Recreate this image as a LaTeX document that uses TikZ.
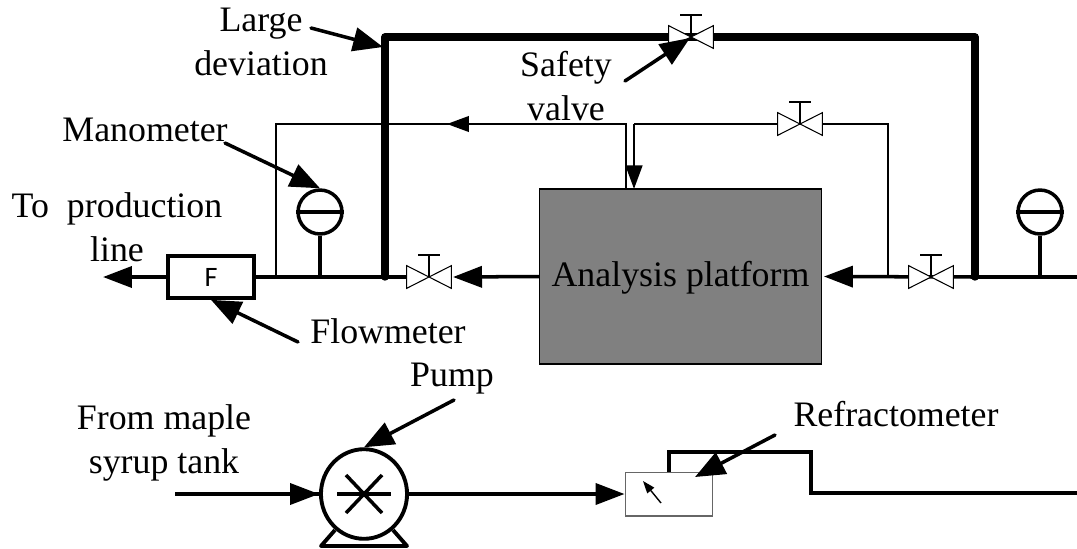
\documentclass[tikz,border=0pt]{standalone}
\usepackage{fontspec}
\setmainfont{Liberation Serif}
\newfontfamily\labelsans{Carlito}
\usetikzlibrary{positioning, arrows.meta, shapes.geometric}

\begin{document}
\begin{tikzpicture}[
      x=0.02cm, y=-0.02cm,
      lbl/.style={font=\fontsize{20.4}{25}\selectfont, inner sep=0pt, align=center},
      pipe/.style={line width=2pt},
      bigpipe/.style={line width=4.2pt, line join=round, line cap=round},
      thinpipe/.style={line width=0.8pt},
      arr/.style={pipe, -{Triangle[length=16.5pt, width=12pt]}},
      smallarr/.style={thinpipe, -{Triangle[length=12.5pt, width=9pt]}},
      leader/.style={line width=2pt, line cap=round, -{Triangle[length=17pt, width=13.5pt]}},
      valvebox/.style={minimum width=25pt, minimum height=12.5pt, inner sep=0pt},
      gauge/.style={circle, draw, line width=2pt, minimum size=25pt, inner sep=0pt},
    ]
    \useasboundingbox (0,0) rectangle (1077,548);

    % Main blocks
    \node[draw, fill=black!50, line width=0.9pt, minimum width=160.4pt, minimum height=99.5pt, inner sep=0pt] (AP) at (680.5,276.5) {};
    \node[lbl] (AL) at (680.5,278) {Analysis platform};
    \node[draw, line width=2pt, minimum width=49pt, minimum height=24pt, inner sep=0pt,
      font=\labelsans\fontsize{16}{18}\selectfont] (FM) at (211,277) {F};
    \node[draw=black!60, line width=0.6pt, minimum width=50pt, minimum height=25pt, inner sep=0pt] (RF) at (669,494) {};
    \node[ellipse, draw, line width=2.2pt, minimum width=49pt, minimum height=51pt, inner sep=0pt] (PU) at (364,494) {};

    % Junctions on the pipes
    \foreach \n/\x/\y in {JA/276/277, JB/320/277, JC/385/277, JD/888/277, JE/975/277, JF/1040/277,
        TA/385/37, TB/975/37, LA/276/124, LB/626/124, LC/626/189, RA/888/124, RB/634/124, RC/634/189,
        OE/1077/277, OL/103/277, IN/175/494, SA/669/452, SB/811/452, SC/811/493, SD/1077/493,
        TL/383/47, TS/690/38, TR/695/477} {
        \coordinate (\n) at (\x,\y);
      }

    % Pipes
    \draw[bigpipe] (JC) -- (TA) -- (TB) -- (JE);
    \draw[thinpipe] (JA) -- (LA) -- (LB) -- (LC);
    \draw[thinpipe] (JD) -- (RA) -- (RB);
    \draw[line width=1.5pt, -{Triangle[length=13.5pt, width=9.5pt]}] (RB) -- (RC);
    \draw[smallarr] (LB) -- (447,124);
    \draw[pipe] (FM.east) -- (JC) -- (410,277);
    \draw[arr] (FM.west) -- (OL);
    \draw[arr] (AP.west) -- (453,277);
    \draw[arr, shorten >=1pt] (JE) -- (AP.east);
    \draw[pipe] (JE) -- (OE);
    \draw[pipe] (IN) -- (PU.west);
    \draw[arr] (IN) -- (319,494);
    \draw[arr] (PU.east) -- (RF.west);
    \draw[pipe] (RF.north) -- (SA) -- (SB) -- (SC) -- (SD);

    % Valves
    \foreach \n/\x/\y in {VA/429/277, VB/691/37, VC/800/124, VD/931/277} {
        \node[valvebox] (\n) at (\x,\y) {};
        \draw[line width=0.6pt, fill=white] (\n.north west) -- (\n.south east) -- (\n.north east) -- (\n.south west) -- cycle;
        \draw[line width=0.6pt] (\n.center) -- ++(0,-22) ++(-11,0) -- ++(22,0);
      }

    % Manometers
    \foreach \n/\j/\x in {GA/JB/320, GB/JF/1040} {
        \node[gauge] (\n) at (\x,212) {};
        \draw[pipe] (\n.west) -- (\n.east);
        \draw[pipe] (\n.south) -- (\j);
      }

    % Pump details
    \draw[pipe] (337,494) -- (391,494);
    \draw[pipe] (346,475) -- (382,513);
    \draw[pipe] (382,475) -- (346,513);
    \draw[line width=2.2pt, line join=round] (335,530) -- (321,546) -- (407,546) -- (393,530);

    % Needle of the refractometer
    \draw[thinpipe, -{Triangle[length=7pt, width=5pt]}] (661,503) -- (643,481);

    % Labels
    \node[lbl] (LD) at (261,42) {Large\\deviation};
    \node[lbl] (SV) at (566,86) {Safety\\valve};
    \node[lbl] (MN) at (145,130) {Manometer};
    \node[lbl] (TP) at (117,227) {To\ \ production\\line};
    \node[lbl] (FL) at (388,331) {Flowmeter};
    \node[lbl] (PL) at (452,379) {Pump};
    \node[lbl] (FT) at (164,443) {From maple\\syrup tank};
    \node[lbl] (RL) at (896,414) {Refractometer};

    % Leaders
    \draw[leader] (311,28) -- (TL);
    \draw[leader] (625,81) -- (TS);
    \draw[leader] (225,143) -- (GA.north);
    \draw[leader] (298,342) -- (FM.south);
    \draw[leader] (454,400) -- (PU.north);
    \draw[leader] (775,435) -- (TR);
  \end{tikzpicture}
\end{document}
